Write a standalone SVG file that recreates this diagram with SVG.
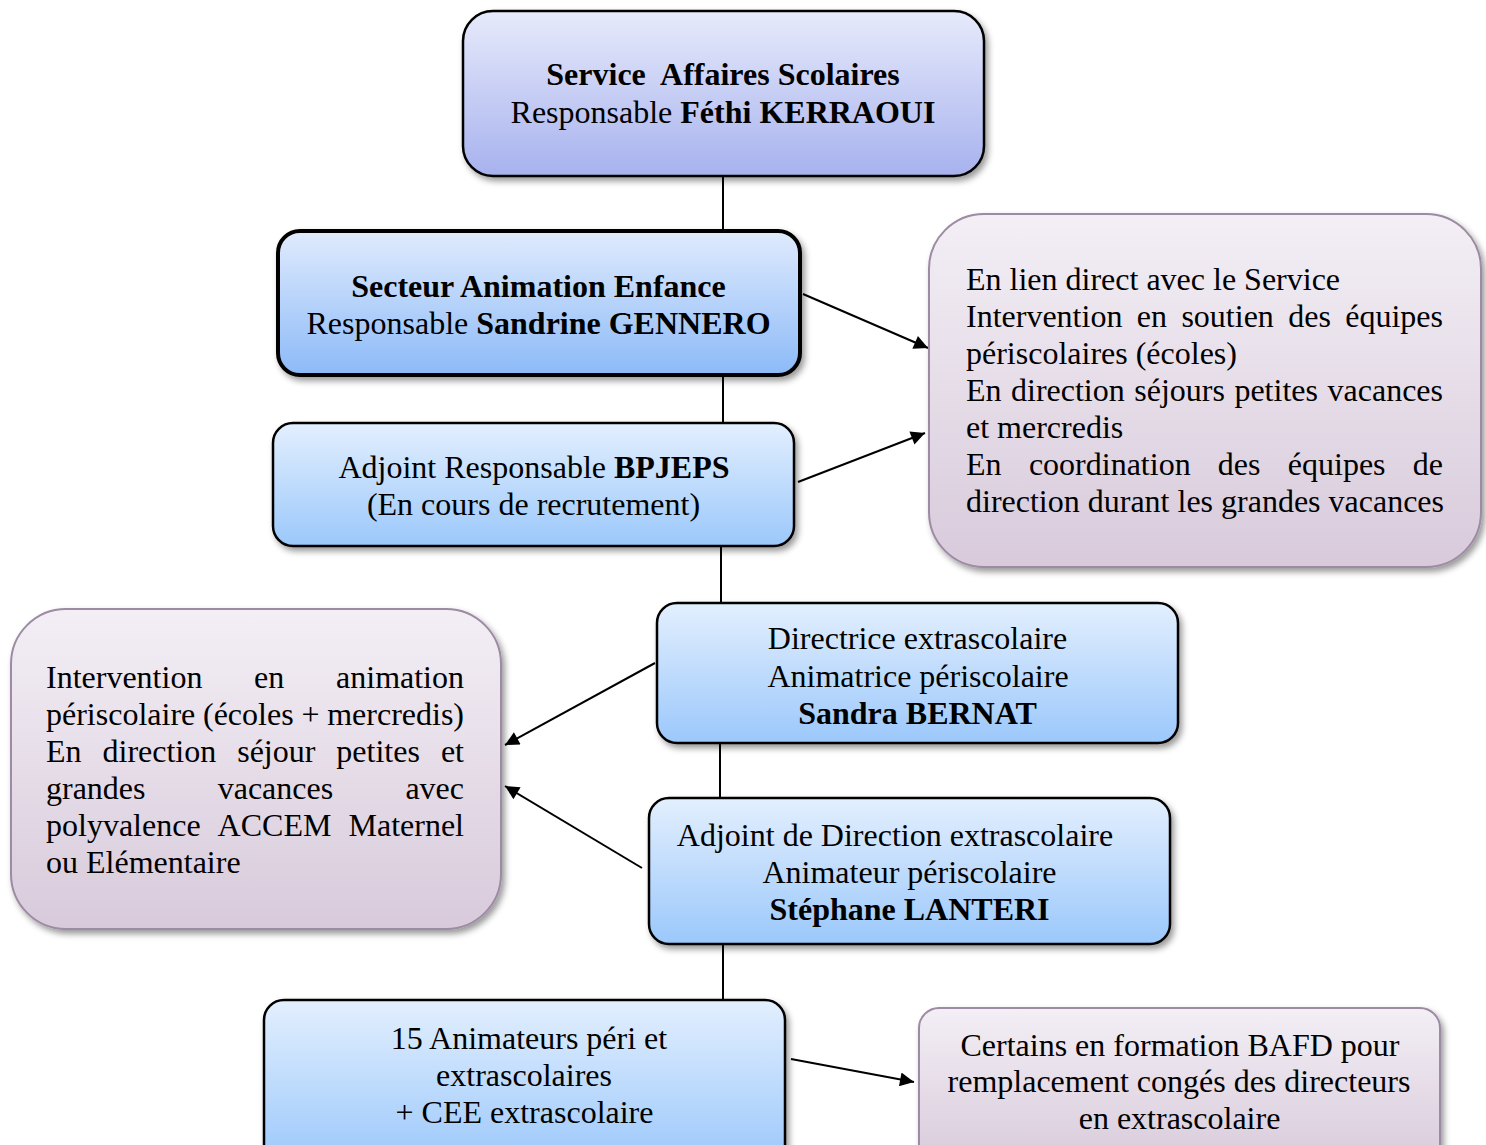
<svg xmlns="http://www.w3.org/2000/svg" width="1486" height="1145" viewBox="0 0 1486 1145">
<defs>
<linearGradient id="gTop" x1="0" y1="0" x2="0" y2="1"><stop offset="0" stop-color="#e7eafb"/><stop offset="1" stop-color="#a7b2ee"/></linearGradient>
<linearGradient id="gSec" x1="0" y1="0" x2="0" y2="1"><stop offset="0" stop-color="#e0ebfd"/><stop offset="1" stop-color="#8cbaf8"/></linearGradient>
<linearGradient id="gBlue" x1="0" y1="0" x2="0" y2="1"><stop offset="0" stop-color="#e3effe"/><stop offset="1" stop-color="#9bc8fb"/></linearGradient>
<linearGradient id="gPurp" x1="0" y1="0" x2="0" y2="1"><stop offset="0" stop-color="#f3eff5"/><stop offset="1" stop-color="#d8cadb"/></linearGradient>
<filter id="sh" x="-10%" y="-10%" width="125%" height="130%"><feDropShadow dx="3" dy="4" stdDeviation="3" flood-color="#000" flood-opacity="0.4"/></filter>
<marker id="ah" viewBox="0 0 10 10" refX="10" refY="5" markerWidth="8" markerHeight="8" markerUnits="userSpaceOnUse" orient="auto"><path d="M0,0 L10,5 L0,10 z" fill="#000"/></marker>
<marker id="ah2" viewBox="0 0 10 10" refX="10" refY="5" markerWidth="16" markerHeight="14" markerUnits="userSpaceOnUse" orient="auto"><path d="M0,0 L10,5 L0,10 z" fill="#000"/></marker>
</defs>
<style>
text{font-family:"Liberation Serif","Times New Roman",serif;font-size:32px;fill:#000}
.c{text-anchor:middle}
.e{text-anchor:end}
.b{font-weight:bold}
.blk{stroke:#000;stroke-width:2.5}
.pur{stroke:#9d8aa3;stroke-width:2}
.ln{stroke:#000;stroke-width:2;fill:none}
.ar{stroke:#000;stroke-width:2;fill:none;marker-end:url(#ah2)}
</style>

<g id="connectors">
<line class="ln" x1="723" y1="176" x2="723" y2="231"/>
<line class="ln" x1="723" y1="375" x2="723" y2="423"/>
<line class="ln" x1="721" y1="546" x2="721" y2="603"/>
<line class="ln" x1="720" y1="743" x2="720" y2="798"/>
<line class="ln" x1="723" y1="944" x2="723" y2="1000"/>
<line class="ar" x1="803" y1="294" x2="928" y2="348"/>
<line class="ar" x1="798" y1="482" x2="925" y2="433"/>
<line class="ar" x1="655" y1="663" x2="505" y2="745"/>
<line class="ar" x1="642" y1="868" x2="505" y2="786"/>
<line class="ar" x1="791" y1="1059" x2="914" y2="1082"/>
</g>

<g id="service">
<rect x="463" y="11" width="521" height="165" rx="30" fill="url(#gTop)" class="blk" filter="url(#sh)"/>
<text class="c b" x="723" y="85" xml:space="preserve">Service  Affaires Scolaires</text>
<text class="c" x="723" y="123">Responsable <tspan class="b">Féthi KERRAOUI</tspan></text>
</g>

<g id="secteur">
<rect x="278" y="231" width="522" height="144" rx="22" fill="url(#gSec)" stroke="#000" stroke-width="4" filter="url(#sh)"/>
<text class="c b" x="538.5" y="297">Secteur Animation Enfance</text>
<text class="c" x="538.5" y="334">Responsable <tspan class="b">Sandrine GENNERO</tspan></text>
</g>

<g id="adjoint">
<rect x="273" y="423" width="521" height="123" rx="20" fill="url(#gBlue)" class="blk" stroke-width="2" filter="url(#sh)"/>
<text class="c" x="534" y="478">Adjoint Responsable <tspan class="b">BPJEPS</tspan></text>
<text class="c" x="533.5" y="515">(En cours de recrutement)</text>
</g>

<g id="missions-secteur">
<rect x="929" y="214" width="552" height="353" rx="55" fill="url(#gPurp)" class="pur" filter="url(#sh)"/>
<text x="966" y="290">En lien direct avec le Service</text>
<text y="327"><tspan x="966">Intervention</tspan><tspan x="1136.8">en</tspan><tspan x="1181.4">soutien</tspan><tspan x="1288.2">des</tspan></text>
<text class="e" x="1443" y="327">équipes</text>
<text x="966" y="364">périscolaires (écoles)</text>
<text y="401"><tspan x="966">En</tspan><tspan x="1011">direction</tspan><tspan x="1134.3">séjours</tspan><tspan x="1234.4">petites</tspan></text>
<text class="e" x="1443" y="401">vacances</text>
<text x="966" y="438">et mercredis</text>
<text y="475"><tspan x="966">En</tspan><tspan x="1028.9">coordination</tspan><tspan x="1217.8">des</tspan><tspan x="1287.8">équipes</tspan></text>
<text class="e" x="1443" y="475">de</text>
<text x="966" y="512">direction durant les grandes vacances</text>
</g>

<g id="directrice">
<rect x="657" y="603" width="521" height="140" rx="20" fill="url(#gBlue)" class="blk" stroke-width="2" filter="url(#sh)"/>
<text class="c" x="917.5" y="649">Directrice extrascolaire</text>
<text class="c" x="918" y="687">Animatrice périscolaire</text>
<text class="c b" x="917.5" y="724">Sandra BERNAT</text>
</g>

<g id="missions-animation">
<rect x="11" y="609" width="490" height="320" rx="55" fill="url(#gPurp)" class="pur" filter="url(#sh)"/>
<text y="688"><tspan x="46">Intervention</tspan><tspan x="254">en</tspan></text>
<text class="e" x="464" y="688">animation</text>
<text y="725"><tspan x="46">périscolaire</tspan><tspan x="203">(écoles</tspan><tspan x="301.5">+</tspan></text>
<text class="e" x="464" y="725">mercredis)</text>
<text y="762"><tspan x="46">En</tspan><tspan x="102.5">direction</tspan><tspan x="237.2">séjour</tspan><tspan x="336.3">petites</tspan></text>
<text class="e" x="464" y="762">et</text>
<text y="799"><tspan x="46">grandes</tspan><tspan x="217.7">vacances</tspan></text>
<text class="e" x="464" y="799">avec</text>
<text y="836"><tspan x="46">polyvalence</tspan><tspan x="217.6">ACCEM</tspan></text>
<text class="e" x="464" y="836">Maternel</text>
<text x="46" y="873">ou Elémentaire</text>
</g>

<g id="adjoint-direction">
<rect x="649" y="798" width="521" height="146" rx="20" fill="url(#gBlue)" class="blk" stroke-width="2" filter="url(#sh)"/>
<text class="c" x="895" y="846">Adjoint de Direction extrascolaire</text>
<text class="c" x="909.5" y="883">Animateur périscolaire</text>
<text class="c b" x="909.5" y="920">Stéphane LANTERI</text>
</g>

<g id="animateurs">
<rect x="264" y="1000" width="521" height="165" rx="20" fill="url(#gBlue)" class="blk" stroke-width="2" filter="url(#sh)"/>
<text class="c" x="529" y="1049">15 Animateurs péri et</text>
<text class="c" x="524" y="1086">extrascolaires</text>
<text class="c" x="524.5" y="1123">+ CEE extrascolaire</text>
</g>

<g id="formation">
<rect x="919" y="1008" width="521" height="160" rx="20" fill="url(#gPurp)" class="pur" filter="url(#sh)"/>
<text class="c" x="1180" y="1056">Certains en formation BAFD pour</text>
<text class="c" x="1179" y="1092">remplacement congés des directeurs</text>
<text class="c" x="1179.5" y="1129">en extrascolaire</text>
</g>
</svg>
